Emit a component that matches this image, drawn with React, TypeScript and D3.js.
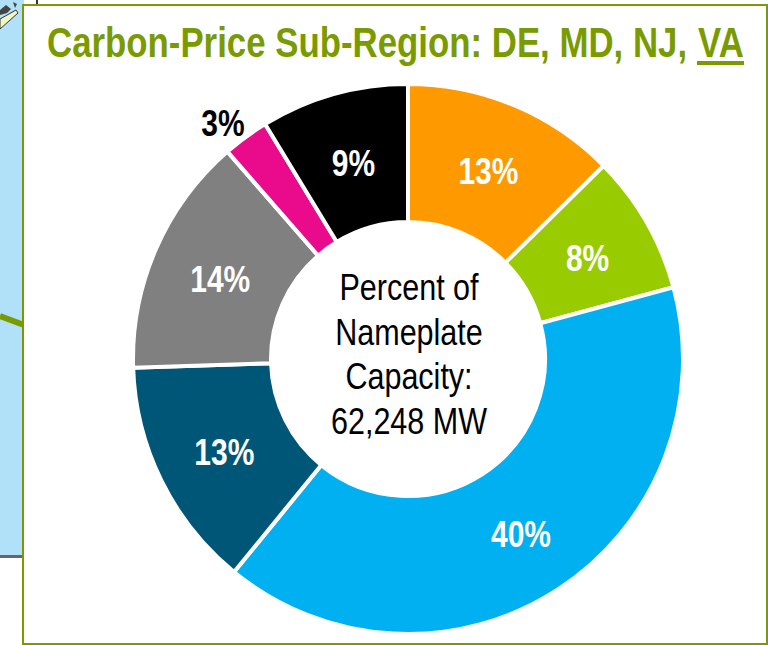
import React from 'react';
import * as d3 from 'd3';

const shares = [12.6, 8.2, 40.1, 13.6, 14.1, 2.7, 8.7];
const labels = ['13%', '8%', '40%', '13%', '14%', '3%', '9%'];
const colors = ['#FF9900', '#99CC00', '#00B0F0', '#005677', '#808080', '#E90B8C', '#000000'];
const labelColors = ['#fff', '#fff', '#fff', '#fff', '#fff', '#000', '#fff'];
const centerLines = ['Percent of', 'Nameplate', 'Capacity:', '62,248 MW'];
const titleMain = 'Carbon-Price Sub-Region: DE, MD, NJ,';
const titleLast = 'VA';

const WIDTH = 768;
const HEIGHT = 645;
const GREEN = '#7A9B00';
const FONT = '"Liberation Sans", Arial, sans-serif';
const NARROW = 0.81; // no narrow face installed, squeeze the regular one
const TITLE_NARROW = 0.829;

const cx = 408;
const cy = 359;
const outerR = 275;
const innerR = 137;

const App: React.FC = () => {
  const pie = d3.pie<number>().sort(null).value(d => d);
  const arcs = pie(shares);
  const arc = d3.arc<d3.PieArcDatum<number>>().innerRadius(innerR).outerRadius(outerR);
  const labelArc = d3.arc<d3.PieArcDatum<number>>().innerRadius(206).outerRadius(206);
  // the 3% label sits outside its slice
  const outsideArc = d3.arc<d3.PieArcDatum<number>>().innerRadius(300).outerRadius(300);

  return (
    <svg
      width={WIDTH}
      height={HEIGHT}
      style={{ position: 'fixed', left: 0, top: 0, background: '#fff' }}
    >
      {/* map fragment behind the panel */}
      <rect x={0} y={0} width={24} height={555} fill="#B0E1F9" />
      <rect x={0} y={555} width={24} height={3} fill="#666" />
      <path d="M0,19 L16,10 L18,13 L0,29 Z" fill="#F2F5C4" stroke="#333" strokeWidth={1} />
      <path d="M0,10 L6,5 L11,9 L7,13 L0,15 Z M13,2 L17,4 L15,8 Z" fill="#444" />
      <rect x={36} y={0} width={2} height={5} fill="#333" />
      <path d="M0,316 L24,325" stroke={GREEN} strokeWidth={6} fill="none" />

      {/* panel */}
      <rect x={23} y={5} width={744} height={639} fill="#fff" stroke={GREEN} strokeWidth={2} />

      <g transform={`translate(47,57) scale(${TITLE_NARROW},1)`}>
        <text x={0} y={0} fontFamily={FONT} fontWeight={700} fontSize={42} fill={GREEN}>
          {titleMain}
        </text>
      </g>
      <g transform={`translate(698,57) scale(${TITLE_NARROW},1)`}>
        <text x={0} y={0} fontFamily={FONT} fontWeight={700} fontSize={42} fill={GREEN}>
          {titleLast}
        </text>
      </g>
      <rect x={697} y={61} width={47} height={4} fill={GREEN} />

      <g transform={`translate(${cx},${cy})`}>
        {arcs.map((d, i) => (
          <path key={i} d={arc(d) ?? ''} fill={colors[i]} stroke="#fff" strokeWidth={4} />
        ))}
        {arcs.map((d, i) => {
          const [x, y] = i === 5 ? outsideArc.centroid(d) : labelArc.centroid(d);
          return (
            <g key={i} transform={`translate(${i === 5 ? x - 8 : x + 1},${i === 5 ? y + 6 : y + 2}) scale(${NARROW},1)`}>
              <text
                x={0}
                y={13}
                textAnchor="middle"
                fontFamily={FONT}
                fontWeight={700}
                fontSize={37}
                fill={labelColors[i]}
              >
                {labels[i]}
              </text>
            </g>
          );
        })}
        {centerLines.map((line, i) => (
          <g key={line} transform={`translate(1,${-59 + i * 44.5}) scale(0.825,1)`}>
            <text x={0} y={0} textAnchor="middle" fontFamily={FONT} fontSize={37} fill="#000">
              {line}
            </text>
          </g>
        ))}
      </g>
    </svg>
  );
};

export default App;
